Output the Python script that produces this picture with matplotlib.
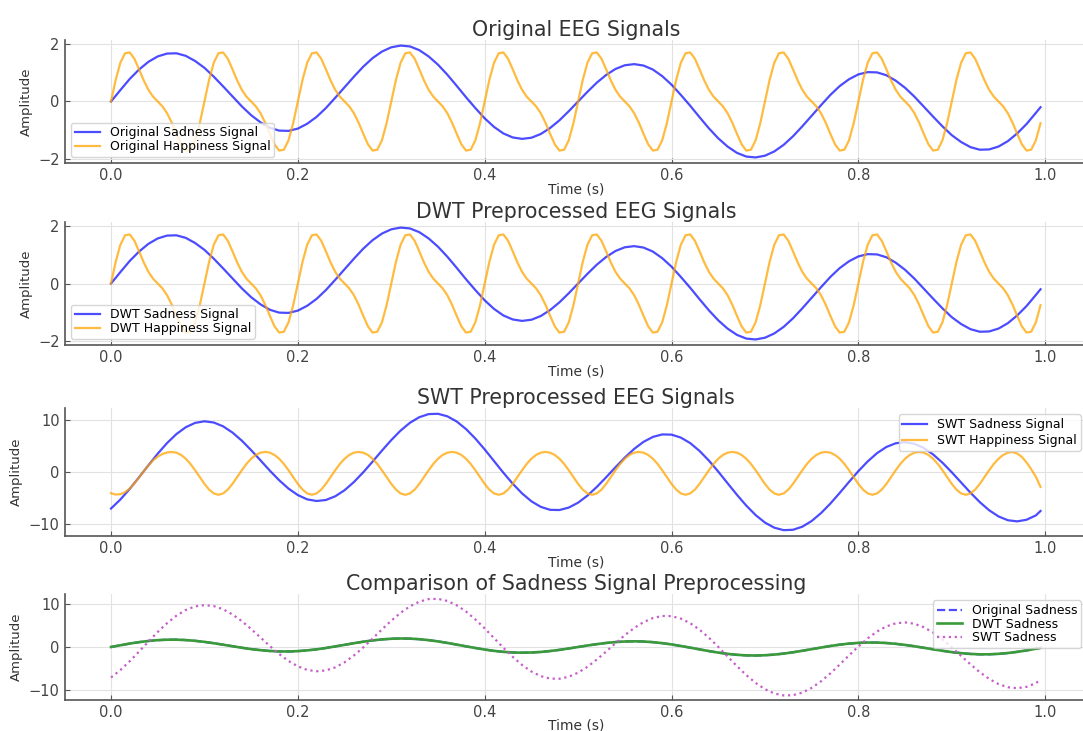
import numpy as np
import matplotlib
matplotlib.use("Agg")
import matplotlib.pyplot as plt

# time grids (s)
t_sad = np.r_[np.arange(100) * 0.01, 0.995]
t_hap = np.arange(200) * 0.005

# values
sadness = [
    0.00, 0.40, 0.79, 1.12, 1.39, 1.58, 1.68, 1.69, 1.60, 1.42,
    1.18, 0.87, 0.53, 0.18, -0.17, -0.48, -0.73, -0.92, -1.02, -1.03,
    -0.95, -0.78, -0.54, -0.23, 0.13, 0.50, 0.87, 1.22, 1.52, 1.75,
    1.90, 1.96, 1.93, 1.80, 1.58, 1.29, 0.94, 0.55, 0.15, -0.23,
    -0.59, -0.89, -1.12, -1.26, -1.31, -1.27, -1.14, -0.93, -0.66, -0.34,
    0.00, 0.34, 0.66, 0.93, 1.14, 1.27, 1.31, 1.26, 1.12, 0.89,
    0.59, 0.23, -0.15, -0.55, -0.94, -1.29, -1.58, -1.80, -1.93, -1.96,
    -1.90, -1.75, -1.52, -1.22, -0.87, -0.50, -0.13, 0.23, 0.54, 0.78,
    0.95, 1.03, 1.02, 0.92, 0.73, 0.48, 0.17, -0.18, -0.53, -0.87,
    -1.18, -1.42, -1.60, -1.69, -1.68, -1.58, -1.39, -1.12, -0.79, -0.40,
    -0.20,
]

happiness = [
    0.00, 0.76, 1.36, 1.69, 1.72, 1.50, 1.13, 0.74, 0.41, 0.17, 0.00, -0.17, -0.41, -0.74, -1.13, -1.50, -1.72, -1.69, -1.36, -0.76,
    0.00, 0.76, 1.36, 1.69, 1.72, 1.50, 1.13, 0.74, 0.41, 0.17, 0.00, -0.17, -0.41, -0.74, -1.13, -1.50, -1.72, -1.69, -1.36, -0.76,
    0.00, 0.76, 1.36, 1.69, 1.72, 1.50, 1.13, 0.74, 0.41, 0.17, 0.00, -0.17, -0.41, -0.74, -1.13, -1.50, -1.72, -1.69, -1.36, -0.76,
    0.00, 0.76, 1.36, 1.69, 1.72, 1.50, 1.13, 0.74, 0.41, 0.17, 0.00, -0.17, -0.41, -0.74, -1.13, -1.50, -1.72, -1.69, -1.36, -0.76,
    0.00, 0.76, 1.36, 1.69, 1.72, 1.50, 1.13, 0.74, 0.41, 0.17, 0.00, -0.17, -0.41, -0.74, -1.13, -1.50, -1.72, -1.69, -1.36, -0.76,
    0.00, 0.76, 1.36, 1.69, 1.72, 1.50, 1.13, 0.74, 0.41, 0.17, 0.00, -0.17, -0.41, -0.74, -1.13, -1.50, -1.72, -1.69, -1.36, -0.76,
    0.00, 0.76, 1.36, 1.69, 1.72, 1.50, 1.13, 0.74, 0.41, 0.17, 0.00, -0.17, -0.41, -0.74, -1.13, -1.50, -1.72, -1.69, -1.36, -0.76,
    0.00, 0.76, 1.36, 1.69, 1.72, 1.50, 1.13, 0.74, 0.41, 0.17, 0.00, -0.17, -0.41, -0.74, -1.13, -1.50, -1.72, -1.69, -1.36, -0.76,
    0.00, 0.76, 1.36, 1.69, 1.72, 1.50, 1.13, 0.74, 0.41, 0.17, 0.00, -0.17, -0.41, -0.74, -1.13, -1.50, -1.72, -1.69, -1.36, -0.76,
    0.00, 0.76, 1.36, 1.69, 1.72, 1.50, 1.13, 0.74, 0.41, 0.17, 0.00, -0.17, -0.41, -0.74, -1.13, -1.50, -1.72, -1.69, -1.36, -0.76,
]

# DWT reconstruction lies right on top of the original traces
dwt_sadness = list(sadness)
dwt_happiness = list(happiness)

swt_sadness = [
    -7.03, -5.31, -3.28, -1.05, 1.24, 3.47, 5.50, 7.22, 8.53, 9.36,
    9.66, 9.43, 8.70, 7.51, 5.96, 4.14, 2.19, 0.22, -1.62, -3.22,
    -4.46, -5.28, -5.59, -5.40, -4.69, -3.53, -1.96, -0.10, 1.95, 4.05,
    6.07, 7.89, 9.38, 10.45, 11.04, 11.10, 10.62, 9.63, 8.18, 6.36,
    4.28, 2.05, -0.18, -2.28, -4.14, -5.65, -6.71, -7.28, -7.32, -6.85,
    -5.91, -4.56, -2.90, -1.05, 0.87, 2.72, 4.38, 5.73, 6.67, 7.15,
    7.11, 6.54, 5.49, 3.99, 2.14, 0.04, -2.19, -4.40, -6.47, -8.28,
    -9.72, -10.70, -11.17, -11.10, -10.51, -9.42, -7.91, -6.09, -4.05, -1.94,
    0.12, 1.99, 3.57, 4.75, 5.46, 5.67, 5.36, 4.56, 3.32, 1.74,
    -0.10, -2.05, -4.00, -5.81, -7.36, -8.54, -9.27, -9.49, -9.18, -8.35,
    -7.50,
]

swt_happiness = [
    -4.10, -4.35, -4.30, -3.90, -3.20, -2.20, -1.10, 0.10, 1.20, 2.20, 2.90, 3.40, 3.70, 3.78, 3.66, 3.22, 2.50, 1.51, 0.30, -1.02,
    -2.32, -3.41, -4.14, -4.40, -4.14, -3.41, -2.32, -1.02, 0.30, 1.51, 2.50, 3.22, 3.66, 3.80, 3.66, 3.22, 2.50, 1.51, 0.30, -1.02,
    -2.32, -3.41, -4.14, -4.40, -4.14, -3.41, -2.32, -1.02, 0.30, 1.51, 2.50, 3.22, 3.66, 3.80, 3.66, 3.22, 2.50, 1.51, 0.30, -1.02,
    -2.32, -3.41, -4.14, -4.40, -4.14, -3.41, -2.32, -1.02, 0.30, 1.51, 2.50, 3.22, 3.66, 3.80, 3.66, 3.22, 2.50, 1.51, 0.30, -1.02,
    -2.32, -3.41, -4.14, -4.40, -4.14, -3.41, -2.32, -1.02, 0.30, 1.51, 2.50, 3.22, 3.66, 3.80, 3.66, 3.22, 2.50, 1.51, 0.30, -1.02,
    -2.32, -3.41, -4.14, -4.40, -4.14, -3.41, -2.32, -1.02, 0.30, 1.51, 2.50, 3.22, 3.66, 3.80, 3.66, 3.22, 2.50, 1.51, 0.30, -1.02,
    -2.32, -3.41, -4.14, -4.40, -4.14, -3.41, -2.32, -1.02, 0.30, 1.51, 2.50, 3.22, 3.66, 3.80, 3.66, 3.22, 2.50, 1.51, 0.30, -1.02,
    -2.32, -3.41, -4.14, -4.40, -4.14, -3.41, -2.32, -1.02, 0.30, 1.51, 2.50, 3.22, 3.66, 3.80, 3.66, 3.22, 2.50, 1.51, 0.30, -1.02,
    -2.32, -3.41, -4.14, -4.40, -4.14, -3.41, -2.32, -1.02, 0.30, 1.51, 2.50, 3.22, 3.66, 3.80, 3.66, 3.22, 2.50, 1.51, 0.30, -1.02,
    -2.32, -3.41, -4.14, -4.40, -4.14, -3.41, -2.32, -1.02, 0.30, 1.51, 2.50, 3.22, 3.66, 3.78, 3.50, 2.85, 1.80, 0.50, -0.95, -2.90,
]

plt.rcParams.update({
    "font.family": "DejaVu Sans",
    "axes.edgecolor": "#555555",
    "axes.linewidth": 1.2,
    "axes.spines.top": False,
    "axes.spines.right": False,
    "axes.grid": True,
    "grid.color": "#e2e2e2",
    "grid.linewidth": 0.8,
    "xtick.direction": "in",
    "ytick.direction": "in",
    "xtick.color": "#555555",
    "ytick.color": "#555555",
    "xtick.labelcolor": "#444444",
    "ytick.labelcolor": "#444444",
    "xtick.labelsize": 10.5,
    "ytick.labelsize": 10.5,
    "axes.titlesize": 14.8,
    "axes.titlecolor": "#333333",
    "axes.labelcolor": "#333333",
    "legend.fontsize": 9,
})

fig = plt.figure(figsize=(10.83, 7.31), dpi=100)
L, W = 0.0596, 0.9441
ax1 = fig.add_axes([L, 0.7770, W, 0.1683])
ax2 = fig.add_axes([L, 0.5280, W, 0.1683])
ax3 = fig.add_axes([L, 0.2668, W, 0.1751])
ax4 = fig.add_axes([L, 0.0420, W, 0.1454])


def finish(ax, title, loc, spacing=0.05, lpad=0):
    ax.set_title(title, pad=2)
    ax.set_xlabel("Time (s)", fontsize=10, labelpad=lpad)
    ax.set_ylabel("Amplitude", fontsize=9.5)
    ax.legend(loc=loc, labelspacing=spacing, borderpad=0.3)


ax1.plot(t_sad, sadness, color="blue", alpha=0.7, lw=1.6, label="Original Sadness Signal")
ax1.plot(t_hap, happiness, color="orange", alpha=0.75, lw=1.6, label="Original Happiness Signal")
finish(ax1, "Original EEG Signals", "lower left")

ax2.plot(t_sad, dwt_sadness, color="blue", alpha=0.7, lw=1.6, label="DWT Sadness Signal")
ax2.plot(t_hap, dwt_happiness, color="orange", alpha=0.75, lw=1.6, label="DWT Happiness Signal")
finish(ax2, "DWT Preprocessed EEG Signals", "lower left")

ax3.plot(t_sad, swt_sadness, color="blue", alpha=0.7, lw=1.6, label="SWT Sadness Signal")
ax3.plot(t_hap, swt_happiness, color="orange", alpha=0.75, lw=1.6, label="SWT Happiness Signal")
finish(ax3, "SWT Preprocessed EEG Signals", "upper right", spacing=0.25)

# the original trace is hidden under the DWT one, as in the source figure
ax4.plot(t_sad, sadness, color="#4d4dff", lw=1.6, ls="--", label="Original Sadness")
ax4.plot(t_sad, dwt_sadness, color="#3a9a3a", lw=1.9, label="DWT Sadness")
ax4.plot(t_sad, swt_sadness, color="#c55ec8", lw=1.6, ls=":", label="SWT Sadness")
finish(ax4, "Comparison of Sadness Signal Preprocessing", "upper right", lpad=-1.5)

fig.savefig("out.png", dpi=100)
